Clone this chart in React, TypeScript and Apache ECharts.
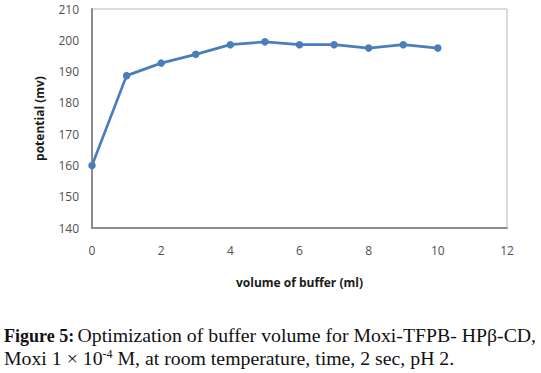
import React, { useEffect, useRef } from "react";
import * as echarts from "echarts";

const xValues = [0, 1, 2, 3, 4, 5, 6, 7, 8, 9, 10];
const potential = [160, 188.7, 192.7, 195.5, 198.6, 199.5, 198.6, 198.6, 197.5, 198.6, 197.5];
const xAxisTitle = "volume of buffer (ml)";
const yAxisTitle = "potential (mv)";

export default function App() {
  const ref = useRef<HTMLDivElement>(null);
  useEffect(() => {
    document.body.style.margin = "0";
    const chart = echarts.init(ref.current!, null, { renderer: "svg" });
    const labelFont = { fontFamily: "Open Sans", fontSize: 12, color: "#505050" };
    chart.setOption({
      animation: false,
      backgroundColor: "#ffffff",
      grid: {
        left: 92,
        right: 34,
        top: 9,
        bottom: 145,
        show: true,
        borderColor: "#b8b8b8",
        borderWidth: 1,
      },
      xAxis: {
        type: "value",
        min: 0,
        max: 12,
        interval: 2,
        name: xAxisTitle,
        nameLocation: "middle",
        nameGap: 48,
        nameTextStyle: { fontFamily: "Open Sans", fontSize: 12, fontWeight: "bold", color: "#1a1a1a" },
        axisLine: { show: true, lineStyle: { color: "#8c8c8c", width: 2 } },
        axisTick: { show: false },
        splitLine: { show: false },
        axisLabel: { ...labelFont, margin: 16 },
      },
      yAxis: {
        type: "value",
        min: 140,
        max: 210,
        interval: 10,
        name: yAxisTitle,
        nameLocation: "middle",
        nameGap: 47,
        nameTextStyle: { fontFamily: "Open Sans", fontSize: 12, fontWeight: "bold", color: "#1a1a1a" },
        axisLine: { show: true, lineStyle: { color: "#8c8c8c", width: 2 } },
        axisTick: { show: false },
        splitLine: { show: false },
        axisLabel: { ...labelFont, margin: 13 },
      },
      series: [
        {
          type: "line",
          data: xValues.map((x, i) => [x, potential[i]]),
          symbol: "circle",
          symbolSize: 7.5,
          lineStyle: { color: "#4a7ebb", width: 2.7 },
          itemStyle: { color: "#4a7ebb" },
        },
      ],
      graphic: [
        {
          type: "text",
          x: 4,
          y: 335,
          style: {
            text: "{b|Figure 5:} {n|Optimization of buffer volume for Moxi-TFPB- HPβ-CD,}",
            verticalAlign: "middle",
            rich: {
              b: { fontFamily: "Liberation Serif", fontSize: 18, fontWeight: "bold", fill: "#111", verticalAlign: "bottom", lineHeight: 20 },
              n: { fontFamily: "Liberation Serif", fontSize: 19.8, fill: "#111", verticalAlign: "bottom", lineHeight: 20 },
            },
          },
        },
        {
          type: "text",
          x: 4,
          y: 358,
          style: {
            text: "{n|Moxi 1 × 10}{s|-4}{n| M, at room temperature, time, 2 sec, pH 2.}",
            verticalAlign: "middle",
            rich: {
              n: { fontFamily: "Liberation Serif", fontSize: 19.8, fill: "#111", lineHeight: 20, verticalAlign: "bottom" },
              s: { fontFamily: "Liberation Serif", fontSize: 12, fill: "#111", lineHeight: 20, verticalAlign: "top" },
            },
          },
        },
      ],
    });
    return () => chart.dispose();
  }, []);
  return <div ref={ref} style={{ width: 541, height: 373, position: "absolute", left: 0, top: 0 }} />;
}
